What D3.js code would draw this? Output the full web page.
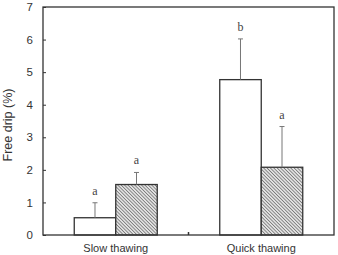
<!DOCTYPE html>
<html>
<head>
<meta charset="utf-8">
<script src="https://cdn.jsdelivr.net/npm/d3@7"></script>
<style>
  html, body { margin: 0; padding: 0; background: #fff; }
  svg { display: block; }
</style>
</head>
<body>
<div id="chart"></div>
<script>
const groups = ["Slow thawing", "Quick thawing"];
const series = ["control", "treated"];
const controlMeans = [0.53, 4.77];
const treatedMeans = [1.55, 2.08];
const controlErr = [0.46, 1.25];
const treatedErr = [0.37, 1.25];
const controlLetters = ["a", "b"];
const treatedLetters = ["a", "a"];
const yTicks = [0, 1, 2, 3, 4, 5, 6, 7];

const width = 338, height = 255;
const margin = { top: 7, right: 4, bottom: 20, left: 43 };

const rows = [];
groups.forEach((g, i) => {
    rows.push({ group: g, key: "control", value: controlMeans[i], err: controlErr[i], letter: controlLetters[i] });
    rows.push({ group: g, key: "treated", value: treatedMeans[i], err: treatedErr[i], letter: treatedLetters[i] });
});

const svg = d3.select("#chart").append("svg")
    .attr("width", width)
    .attr("height", height);

// fine diagonal hatch for the second series
const defs = svg.append("defs");
const pat = defs.append("pattern")
    .attr("id", "hatch")
    .attr("patternUnits", "userSpaceOnUse")
    .attr("width", 2.4)
    .attr("height", 2.4)
    .attr("patternTransform", "rotate(-45)");
pat.append("rect").attr("width", 2.4).attr("height", 2.4).attr("fill", "#e2e2e2");
pat.append("line")
    .attr("x1", 0).attr("y1", 0).attr("x2", 0).attr("y2", 2.4)
    .attr("stroke", "#555").attr("stroke-width", 1.2);

const x0 = d3.scaleBand()
    .domain(groups)
    .range([margin.left, width - margin.right])
    .padding(0);

const x1 = d3.scaleBand()
    .domain(series)
    .range([0, x0.bandwidth()])
    .paddingInner(0)
    .paddingOuter(0.753);

const y = d3.scaleLinear()
    .domain([0, 7])
    .range([height - margin.bottom, margin.top]);

const cx = d => x0(d.group) + x1(d.key) + x1.bandwidth() / 2;

// Bars
svg.append("g")
    .selectAll("rect")
    .data(rows)
    .join("rect")
    .attr("x", d => x0(d.group) + x1(d.key))
    .attr("y", d => y(d.value))
    .attr("width", x1.bandwidth())
    .attr("height", d => y(0) - y(d.value))
    .attr("fill", d => d.key === "control" ? "#fff" : "url(#hatch)")
    .attr("stroke", "#333")
    .attr("stroke-width", 1.3);

// Error bars (upper only)
const eb = svg.append("g").attr("stroke", "#777").attr("stroke-width", 1);
eb.selectAll("line.v")
    .data(rows)
    .join("line")
    .attr("class", "v")
    .attr("x1", cx)
    .attr("x2", cx)
    .attr("y1", d => y(d.value))
    .attr("y2", d => y(d.value + d.err));
eb.selectAll("line.cap")
    .data(rows)
    .join("line")
    .attr("class", "cap")
    .attr("x1", d => cx(d) - 2.5)
    .attr("x2", d => cx(d) + 2.5)
    .attr("y1", d => y(d.value + d.err))
    .attr("y2", d => y(d.value + d.err));

// Significance letters
svg.append("g")
    .selectAll("text")
    .data(rows)
    .join("text")
    .attr("x", cx)
    .attr("y", d => y(d.value + d.err) - 8)
    .attr("text-anchor", "middle")
    .style("font-family", "'Liberation Serif', serif")
    .style("font-size", "12px")
    .style("fill", "#444")
    .text(d => d.letter);

// Frame
svg.append("rect")
    .attr("x", margin.left)
    .attr("y", margin.top)
    .attr("width", width - margin.left - margin.right)
    .attr("height", height - margin.top - margin.bottom)
    .attr("fill", "none")
    .attr("stroke", "#333")
    .attr("stroke-width", 1.3);

// Y axis, ticks inward
const yAxis = svg.append("g")
    .attr("transform", `translate(${margin.left},0)`)
    .call(d3.axisRight(y).tickValues(yTicks).tickSize(3).tickFormat(d3.format("d")));
yAxis.select(".domain").remove();
yAxis.selectAll("line").attr("stroke", "#333");
yAxis.selectAll("text")
    .attr("x", -10)
    .attr("text-anchor", "end")
    .style("font-family", "'Liberation Sans', Arial, sans-serif")
    .style("font-size", "11.5px")
    .style("fill", "#333");

// X axis: group labels and a divider tick between groups
const xAxis = svg.append("g")
    .attr("transform", `translate(0,${y(0)})`)
    .call(d3.axisBottom(x0).tickSize(0).tickPadding(9));
xAxis.select(".domain").remove();
xAxis.selectAll("text")
    .style("font-family", "'Liberation Sans', Arial, sans-serif")
    .style("font-size", "11px")
    .style("fill", "#333");

svg.append("line")
    .attr("x1", x0(groups[1]))
    .attr("x2", x0(groups[1]))
    .attr("y1", y(0))
    .attr("y2", y(0) - 3)
    .attr("stroke", "#333")
    .attr("stroke-width", 1.5);

// Y title
svg.append("text")
    .attr("transform", `translate(12,125) rotate(-90)`)
    .attr("text-anchor", "middle")
    .style("font-family", "'Liberation Sans', Arial, sans-serif")
    .style("font-size", "12.5px")
    .style("fill", "#333")
    .text("Free drip (%)");
</script>
</body>
</html>
